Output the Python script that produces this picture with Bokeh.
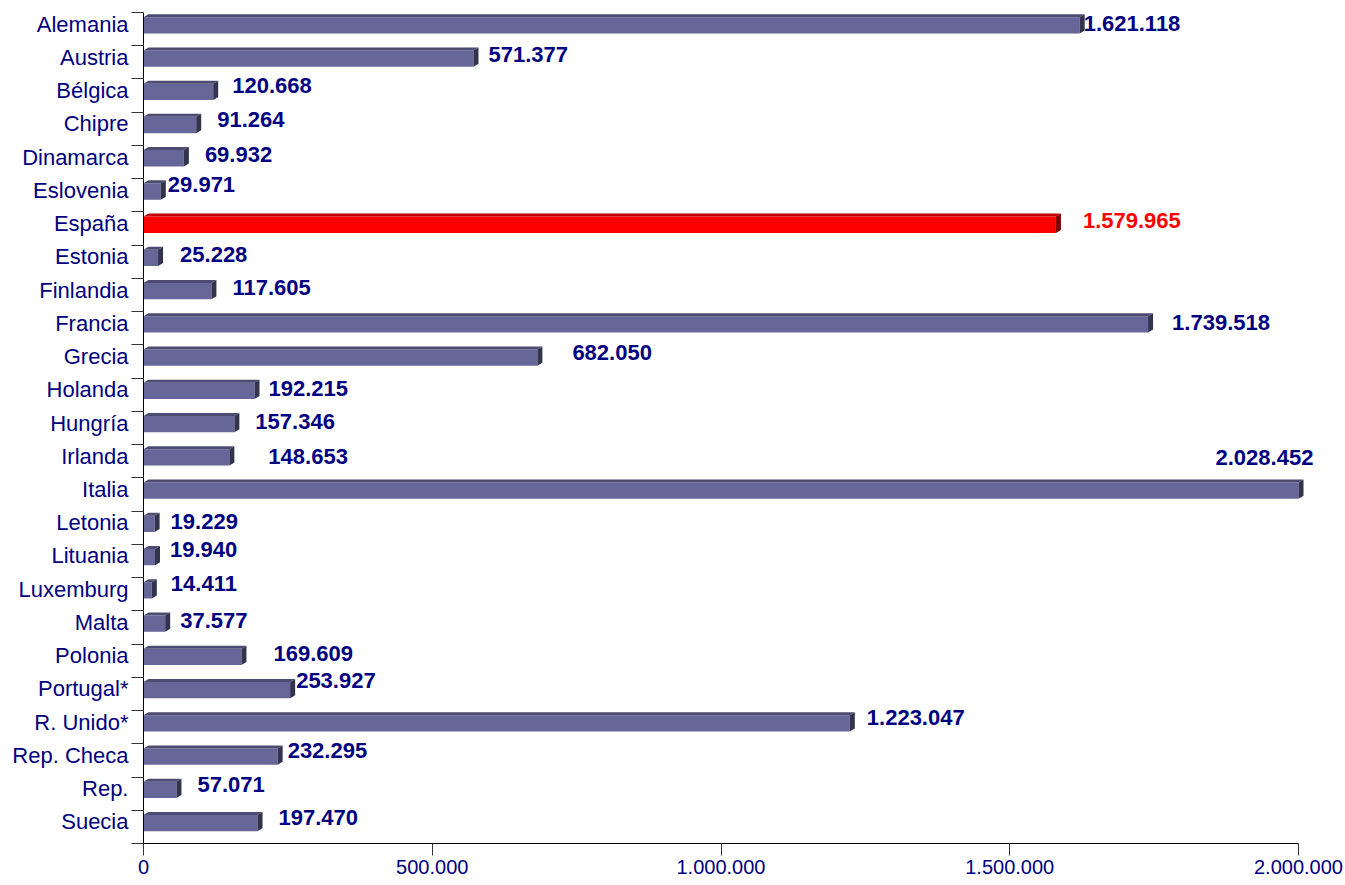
import numpy as np
from bokeh.plotting import figure
from bokeh.models import Range1d, FixedTicker, CustomJSTickFormatter, ColumnDataSource
from bokeh.core.properties import value
from bokeh.embed import file_html
from bokeh.resources import INLINE

# ---- data ----
countries = ["Alemania", "Austria", "Bélgica", "Chipre", "Dinamarca", "Eslovenia",
             "España", "Estonia", "Finlandia", "Francia", "Grecia", "Holanda",
             "Hungría", "Irlanda", "Italia", "Letonia", "Lituania", "Luxemburg",
             "Malta", "Polonia", "Portugal*", "R. Unido*", "Rep. Checa", "Rep.", "Suecia"]
values = [1621118, 571377, 120668, 91264, 69932, 29971,
          1579965, 25228, 117605, 1739518, 682050, 192215,
          157346, 148653, 2028452, 19229, 19940, 14411,
          37577, 169609, 253927, 1223047, 232295, 57071, 197470]
highlight = "España"
x_ticks = [0, 500000, 1000000, 1500000, 2000000]

# label nudges in screen pixels (x from bar end, y from category centre)
label_dx = [4, 15, 19, 21, 21, 7, 27, 22, 21, 24, 35, 14, 21, 39, -83,
            16, 15, 19, 15, 32, 6, 17, 10, 21, 21]
label_dy = [-6, -8, -10, -9, -8, -11, -8, -7, -8, -6, -9, -6, -7, -5, -37,
            -6, -11, -11, -7, -7, -13, -10, -10, -9, -9]

# ---- layout ----
W, H = 1345, 885
BL, BT, BR, BB = 143, 12, 15, 42
frame_w = W - BL - BR
frame_h = H - BT - BB
AXIS_MAX = 2000000
PX_AXIS = 1155.0                     # pixels from 0 to AXIS_MAX
x_end = AXIS_MAX * frame_w / PX_AXIS
n = len(countries)
ux = x_end / frame_w                 # data units per pixel (x)
uy = n / frame_h                     # data units per pixel (y)
DX = 5 * ux
DY = 3 * uy

NAVY = "#000080"
FONT = "Liberation Sans"

p = figure(width=W, height=H, output_backend="svg", toolbar_location=None,
           x_range=Range1d(0, x_end), y_range=Range1d(n - 0.5, -0.5),
           min_border_left=BL, min_border_top=BT, min_border_right=BR,
           min_border_bottom=BB)
p.outline_line_color = None
p.xgrid.visible = False
p.ygrid.visible = False
p.background_fill_color = "white"

vals = np.array(values, dtype=float)
ends = np.minimum(vals, AXIS_MAX)
idx = np.arange(n, dtype=float)
ftop = idx - 0.5 + 0.14
fbot = idx - 0.5 + 0.63

is_hl = [c == highlight for c in countries]
front = ["#ff0000" if h else "#666699" for h in is_hl]
topc = ["#c00000" if h else "#4c4c72" for h in is_hl]
sidec = ["#800000" if h else "#33334d" for h in is_hl]

# front faces
p.quad(left=0, right=ends, top=ftop, bottom=fbot, fill_color=front, line_color=None)
# top faces
top_xs = [[0, DX, e + DX, e] for e in ends]
top_ys = [[t, t - DY, t - DY, t] for t in ftop]
p.patches(top_xs, top_ys, fill_color=topc, line_color=None)
# side faces
side_xs = [[e, e + DX, e + DX, e] for e in ends]
side_ys = [[t, t - DY, b - DY, b] for t, b in zip(ftop, fbot)]
p.patches(side_xs, side_ys, fill_color=sidec, line_color=None)

# value labels
labels = [f"{v:,}".replace(",", ".") for v in values]
src = ColumnDataSource(dict(x=ends, y=idx, text=labels, dx=label_dx, dy=label_dy,
                            color=["#ff0000" if h else NAVY for h in is_hl]))
p.text(x="x", y="y", text="text", x_offset="dx", y_offset="dy", source=src,
       text_color="color", text_font=value(FONT), text_font_style="bold",
       text_font_size="22px", text_align="left", text_baseline="middle")

# x axis
xa = p.xaxis[0]
xa.ticker = FixedTicker(ticks=x_ticks, minor_ticks=[])
xa.bounds = (0, AXIS_MAX)
xa.formatter = CustomJSTickFormatter(code="""
return tick.toFixed(0).replace(/\\B(?=(\\d{3})+(?!\\d))/g, ".");
""")
xa.major_tick_in = 0
xa.major_tick_out = 12
xa.minor_tick_in = 0
xa.minor_tick_out = 0
xa.minor_tick_line_color = None
xa.major_label_standoff = 4
xa.axis_line_color = "black"
xa.major_tick_line_color = "#333333"
xa.major_label_text_color = NAVY
xa.major_label_text_font = FONT
xa.major_label_text_font_size = "20px"

# y axis
ya = p.yaxis[0]
ya.ticker = FixedTicker(ticks=list(idx - 0.15),
                        minor_ticks=list(np.arange(n + 1) - 0.5))
ya.formatter = CustomJSTickFormatter(args=dict(names=countries),
                                     code="return names[Math.round(tick + 0.15)];")
ya.major_tick_line_color = None
ya.major_tick_in = 0
ya.major_tick_out = 0
ya.minor_tick_in = 0
ya.minor_tick_out = 12
ya.minor_tick_line_color = "#333333"
ya.axis_line_color = "black"
ya.major_label_standoff = 3
ya.major_label_text_color = NAVY
ya.major_label_text_font = FONT
ya.major_label_text_font_size = "22px"

open("out.html", "w").write(file_html(p, INLINE))
